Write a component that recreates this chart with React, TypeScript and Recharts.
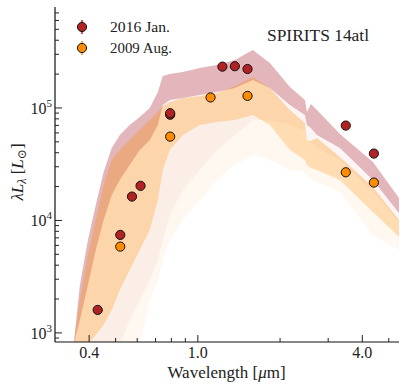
import React from 'react';
import { ComposedChart, Area, Scatter, XAxis, YAxis } from 'recharts';

// Model spectrum envelopes (wavelength in micron, lambda L_lambda in L_sun)
const waveGrid = [0.351, 0.370, 0.396, 0.423, 0.452, 0.484, 0.518, 0.563, 0.613, 0.667, 0.714, 0.744, 0.790, 0.881, 1.017, 1.174, 1.366, 1.590, 1.835, 2.173, 2.466, 2.508, 2.594, 2.729, 3.312, 4.375, 5.45];
const pinkTop = [782, 2671, 6708, 13730, 26980, 44100, 57540, 70640, 83180, 100000, 138800, 192500, 200600, 208900, 226800, 241100, 267100, 327800, 251200, 153700, 117800, 92140, 108500, 95990, 58730, 33110, 15850];
const pinkCore = [782, 1305, 2671, 5467, 10100, 16850, 22910, 31140, 42330, 51940, 70640, 106300, 117800, 122700, 130500, 138800, 150600, 177400, 150600, 106300, 86660, 70640, 66420, 57540, 44100, 22910, 11660];
const pinkSpike = [782, 782, 782, 782, 782, 782, 782, 1305, 1965, 2959, 4456, 6708, 11190, 18670, 28110, 42330, 57540, 78250, 78250, 70640, 63730, 51940, 49850, 44100, 34500, 17920, 9697];
const orangeTop = [782, 1965, 4935, 10100, 20690, 34500, 42330, 51940, 63730, 78250, 92140, 104200, 113100, 122700, 127800, 135900, 156900, 188700, 150600, 95990, 73560, 51940, 50880, 54120, 36680, 19860, 10100];
const orangeCore = [782, 782, 800, 959, 1178, 1601, 2412, 3631, 5467, 8233, 15210, 28110, 42330, 57540, 70640, 75080, 78250, 86660, 70640, 42330, 34500, 31140, 29290, 28110, 22910, 11900, 7135];
const orangeSpike = [782, 782, 782, 782, 782, 782, 782, 782, 782, 1965, 2959, 4456, 6708, 10100, 15210, 22910, 31140, 38220, 34500, 28110, 26980, 25370, 23870, 21990, 17920, 7434, 5467];

// Photometry
const jan2016Wave = [0.43, 0.52, 0.574, 0.617, 0.792, 0.792, 1.23, 1.366, 1.52, 3.48, 4.41];
const jan2016Lum = [1600, 7430, 16300, 20300, 87000, 89800, 233000, 235000, 222000, 69700, 39300];
const aug2009Wave = [0.52, 0.792, 1.113, 1.52, 3.48, 4.41];
const aug2009Lum = [5850, 55600, 124000, 128000, 26800, 21700];

const xTicks = [0.4, 0.5, 0.6, 0.7, 0.8, 0.9, 1, 2, 3, 4, 5];
const xMajor = [0.4, 1, 4];
const yTicks = [900, 1000, 2000, 3000, 4000, 5000, 6000, 7000, 8000, 9000, 10000, 20000, 30000, 40000, 50000, 60000, 70000, 80000, 90000, 100000, 200000, 300000, 400000, 500000, 600000, 700000];
const yMajor = [1000, 10000, 100000];

const bandData = waveGrid.map((w, i) => ({
  w,
  pinkSpike: [pinkSpike[i], pinkCore[i]],
  pinkCore: [pinkCore[i], pinkTop[i]],
  orangeSpike: [orangeSpike[i], orangeCore[i]],
  orangeCore: [orangeCore[i], orangeTop[i]],
}));
const janData = jan2016Wave.map((w, i) => ({ w, L: jan2016Lum[i] }));
const augData = aug2009Wave.map((w, i) => ({ w, L: aug2009Lum[i] }));

const FONT = '"Liberation Serif", "DejaVu Serif", serif';
const INK = '#222';
const RED = '#b22222';
const ORANGE = '#ff8c00';
const PINK = '#b0363f';

const BottomTick = (p: any) => {
  const { x, y, payload } = p;
  const v = payload.value;
  const major = xMajor.includes(v);
  return (
    <g>
      <line x1={x} x2={x} y1={y} y2={y - (major ? 7 : 4)} stroke={INK} strokeWidth={1} />
      {major && (
        <text x={x} y={y + 16} textAnchor="middle" fontSize={16} fontFamily={FONT} fill={INK}>
          {v.toFixed(1)}
        </text>
      )}
    </g>
  );
};
const TopTick = (p: any) => {
  const { x, y, payload } = p;
  const major = xMajor.includes(payload.value);
  return <line x1={x} x2={x} y1={y} y2={y + (major ? 7 : 4)} stroke={INK} strokeWidth={1} />;
};
const LeftTick = (p: any) => {
  const { x, y, payload } = p;
  const v = payload.value;
  const major = yMajor.includes(v);
  return (
    <g>
      <line x1={x} x2={x + (major ? 7 : 4)} y1={y} y2={y} stroke={INK} strokeWidth={1} />
      {major && (
        <text x={x - 3} y={y + 6} textAnchor="end" fontSize={16} fontFamily={FONT} fill={INK}>
          10
          <tspan dy={-7} fontSize={11}>{Math.round(Math.log10(v))}</tspan>
        </text>
      )}
    </g>
  );
};
const RightTick = (p: any) => {
  const { x, y, payload } = p;
  const major = yMajor.includes(payload.value);
  return <line x1={x} x2={x - (major ? 7 : 4)} y1={y} y2={y} stroke={INK} strokeWidth={1} />;
};

const dot = (fill: string) => (p: any) => (
  <circle cx={p.cx} cy={p.cy} r={4.6} fill={fill} stroke="#111" strokeWidth={1} />
);

const axisLine = { stroke: '#111', strokeWidth: 1.2 };

export default function App() {
  return (
    <div style={{ position: 'absolute', left: 0, top: 0, width: 407, height: 391, background: '#fff' }}>
      <ComposedChart width={407} height={391} data={bandData} margin={{ top: 7, right: 8, left: 0, bottom: 0 }}>
        <XAxis
          dataKey="w"
          type="number"
          scale="log"
          domain={[0.3, 5.45]}
          allowDataOverflow
          ticks={xTicks}
          interval={0}
          tickSize={0}
          tickMargin={0}
          tickLine={false}
          axisLine={axisLine}
          height={49}
          tick={(p: any) => <BottomTick {...p} />}
        />
        <XAxis
          xAxisId="top"
          orientation="top"
          type="number"
          scale="log"
          domain={[0.3, 5.45]}
          allowDataOverflow
          ticks={xTicks}
          interval={0}
          tickSize={0}
          tickMargin={0}
          tickLine={false}
          axisLine={axisLine}
          height={0}
          tick={(p: any) => <TopTick {...p} />}
        />
        <YAxis
          type="number"
          scale="log"
          domain={[830, 790000]}
          allowDataOverflow
          ticks={yTicks}
          interval={0}
          tickSize={0}
          tickMargin={0}
          tickLine={false}
          axisLine={axisLine}
          width={55}
          tick={(p: any) => <LeftTick {...p} />}
        />
        <YAxis
          yAxisId="right"
          orientation="right"
          type="number"
          scale="log"
          domain={[830, 790000]}
          allowDataOverflow
          ticks={yTicks}
          interval={0}
          tickSize={0}
          tickMargin={0}
          tickLine={false}
          axisLine={axisLine}
          width={0}
          tick={(p: any) => <RightTick {...p} />}
        />
        <Area dataKey="pinkSpike" type="linear" stroke="none" fill={PINK} fillOpacity={0.05} isAnimationActive={false} />
        <Area dataKey="pinkCore" type="linear" stroke="none" fill={PINK} fillOpacity={0.36} isAnimationActive={false} />
        <Area dataKey="orangeSpike" type="linear" stroke="none" fill={ORANGE} fillOpacity={0.06} isAnimationActive={false} />
        <Area dataKey="orangeCore" type="linear" stroke="none" fill={ORANGE} fillOpacity={0.3} isAnimationActive={false} />
        <Scatter data={augData} dataKey="L" fill={ORANGE} shape={dot(ORANGE)} isAnimationActive={false} />
        <Scatter data={janData} dataKey="L" fill={RED} shape={dot(RED)} isAnimationActive={false} />
      </ComposedChart>
      <svg width={407} height={391} style={{ position: 'absolute', left: 0, top: 0, pointerEvents: 'none' }}>
        <line x1={82} x2={82} y1={20} y2={34} stroke={RED} strokeWidth={1.5} />
        <circle cx={82} cy={27} r={4.6} fill={RED} stroke="#111" strokeWidth={1} />
        <text x={110} y={32} fontSize={14} fontFamily={FONT} fill={INK} textLength={60} lengthAdjust="spacingAndGlyphs">2016 Jan.</text>
        <line x1={82} x2={82} y1={41} y2={55} stroke={ORANGE} strokeWidth={1.5} />
        <circle cx={82} cy={48} r={4.6} fill={ORANGE} stroke="#111" strokeWidth={1} />
        <text x={110} y={53} fontSize={14} fontFamily={FONT} fill={INK} textLength={62} lengthAdjust="spacingAndGlyphs">2009 Aug.</text>
        <text x={267} y={41} fontSize={16} fontFamily={FONT} fill={INK} textLength={102} lengthAdjust="spacingAndGlyphs">SPIRITS 14atl</text>
        <text x={226.5} y={378} textAnchor="middle" fontSize={17} fontFamily={FONT} fill={INK}>
          Wavelength [<tspan fontStyle="italic">μ</tspan>m]
        </text>
        <text transform="translate(23,172) rotate(-90)" textAnchor="middle" fontSize={17} fontFamily={FONT} fill={INK}>
          <tspan fontStyle="italic">λL</tspan>
          <tspan fontSize={12} dy={3} fontStyle="italic">λ</tspan>
          <tspan dy={-3}> [</tspan>
          <tspan fontStyle="italic">L</tspan>
          <tspan fontSize={12} dy={3}>⊙</tspan>
          <tspan dy={-3}>]</tspan>
        </text>
      </svg>
    </div>
  );
}
